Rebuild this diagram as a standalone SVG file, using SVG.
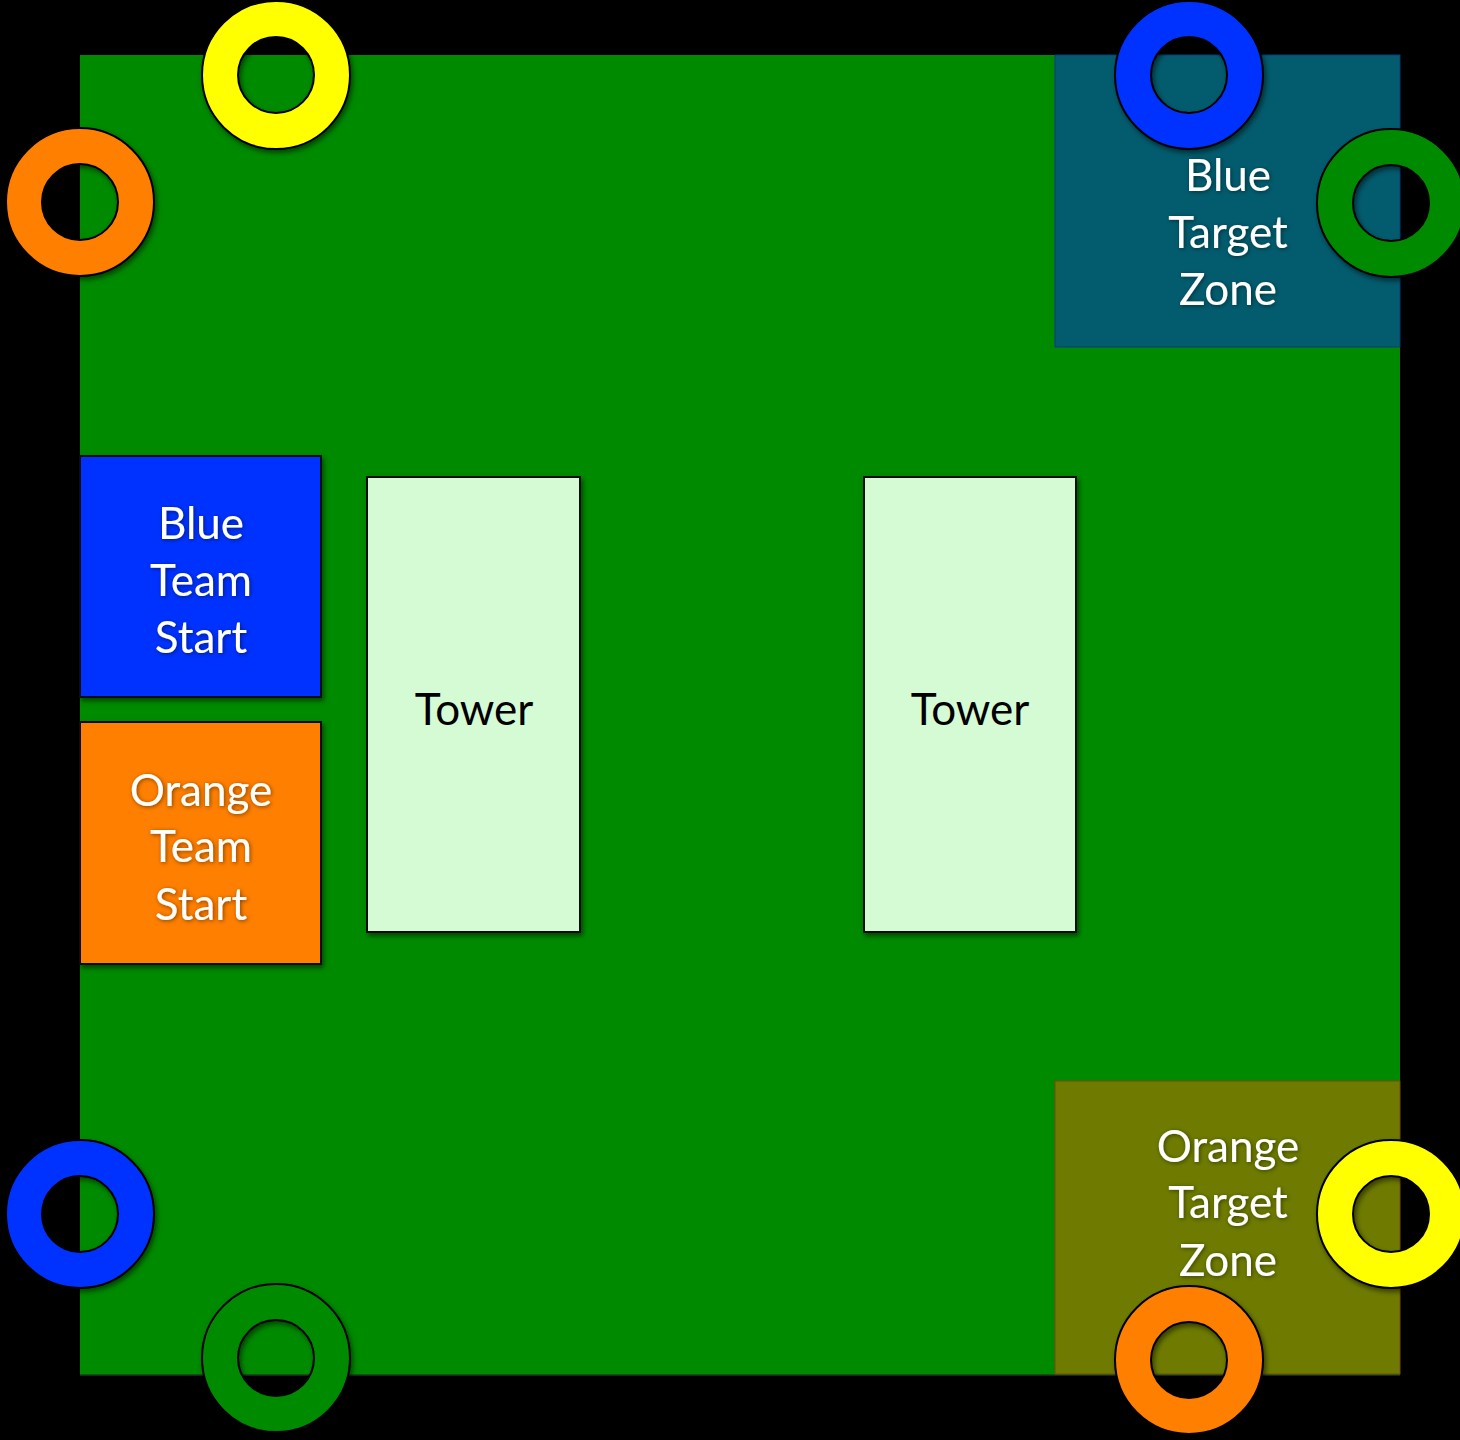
<svg xmlns="http://www.w3.org/2000/svg" width="1460" height="1440" viewBox="0 0 1460 1440">
<style>
.lbl{font-family:Lato,"Open Sans","Liberation Sans",sans-serif;font-size:44px;text-anchor:middle;fill:#ffffff}
.dark{fill:#000000}
.ring{stroke:#000;stroke-width:2;fill-rule:evenodd}
.box{stroke:#111;stroke-width:2}
</style>
<defs>
<filter id="sh" x="-20%" y="-20%" width="150%" height="150%">
<feDropShadow dx="2" dy="3" stdDeviation="2.5" flood-color="#000" flood-opacity="0.5"/>
</filter>
<filter id="tsh" x="-20%" y="-20%" width="150%" height="150%">
<feDropShadow dx="1" dy="1" stdDeviation="2" flood-color="#000" flood-opacity="0.5"/>
</filter>
</defs>
<rect x="0" y="0" width="1460" height="1440" fill="#000"/>
<g id="field">
<rect x="80" y="55" width="1320" height="1320" fill="#008A00"/>
<line x1="80" y1="1375" x2="1400" y2="1375" stroke="#1e3a1e" stroke-width="1.5"/>
</g>
<g id="blue-target-zone">
<rect x="1055" y="55" width="345" height="292" fill="#025C6E" stroke="#0a3a7a" stroke-width="1"/>
<text class="lbl" filter="url(#tsh)"><tspan x="1228" y="191">Blue</tspan><tspan x="1228" y="248">Target</tspan><tspan x="1228" y="305">Zone</tspan></text>
</g>
<g id="orange-target-zone">
<rect x="1055" y="1081" width="345" height="293" fill="#6E7B00" stroke="#7a4a10" stroke-width="1"/>
<text class="lbl" filter="url(#tsh)"><tspan x="1228" y="1162">Orange</tspan><tspan x="1228" y="1218">Target</tspan><tspan x="1228" y="1276">Zone</tspan></text>
</g>
<g id="blue-team-start">
<rect class="box" x="80" y="456" width="241" height="241" fill="#0433FF" filter="url(#sh)"/>
<text class="lbl" filter="url(#tsh)"><tspan x="201" y="539">Blue</tspan><tspan x="201" y="596">Team</tspan><tspan x="201" y="653">Start</tspan></text>
</g>
<g id="orange-team-start">
<rect class="box" x="80" y="722" width="241" height="242" fill="#FF7F00" filter="url(#sh)"/>
<text class="lbl" filter="url(#tsh)"><tspan x="201" y="806">Orange</tspan><tspan x="201" y="862">Team</tspan><tspan x="201" y="920">Start</tspan></text>
</g>
<g id="tower-left">
<rect class="box" x="367" y="477" width="213" height="455" fill="#D5FBD5" filter="url(#sh)"/>
<text class="lbl dark" x="474" y="725">Tower</text>
</g>
<g id="tower-right">
<rect class="box" x="864" y="477" width="212" height="455" fill="#D5FBD5" filter="url(#sh)"/>
<text class="lbl dark" x="970" y="725">Tower</text>
</g>
<g id="rings" filter="url(#sh)">
<path id="ring-yellow-top" class="ring" fill="#FFFF00" d="M202,75a74,74 0 1,0 148,0a74,74 0 1,0 -148,0ZM238,75a38,38 0 1,0 76,0a38,38 0 1,0 -76,0Z"/>
<path id="ring-orange-left" class="ring" fill="#FF7F00" d="M6,202a74,74 0 1,0 148,0a74,74 0 1,0 -148,0ZM42,202a38,38 0 1,0 76,0a38,38 0 1,0 -76,0Z"/>
<path id="ring-blue-top" class="ring" fill="#0433FF" d="M1115,75a74,74 0 1,0 148,0a74,74 0 1,0 -148,0ZM1151,75a38,38 0 1,0 76,0a38,38 0 1,0 -76,0Z"/>
<path id="ring-green-right" class="ring" fill="#008A00" d="M1317,203a74,74 0 1,0 148,0a74,74 0 1,0 -148,0ZM1353,203a38,38 0 1,0 76,0a38,38 0 1,0 -76,0Z"/>
<path id="ring-yellow-right" class="ring" fill="#FFFF00" d="M1317,1214a74,74 0 1,0 148,0a74,74 0 1,0 -148,0ZM1353,1214a38,38 0 1,0 76,0a38,38 0 1,0 -76,0Z"/>
<path id="ring-orange-bottom" class="ring" fill="#FF7F00" d="M1115,1360a74,74 0 1,0 148,0a74,74 0 1,0 -148,0ZM1151,1360a38,38 0 1,0 76,0a38,38 0 1,0 -76,0Z"/>
<path id="ring-blue-left" class="ring" fill="#0433FF" d="M6,1214a74,74 0 1,0 148,0a74,74 0 1,0 -148,0ZM42,1214a38,38 0 1,0 76,0a38,38 0 1,0 -76,0Z"/>
<path id="ring-green-bottom" class="ring" fill="#008A00" d="M202,1358a74,74 0 1,0 148,0a74,74 0 1,0 -148,0ZM238,1358a38,38 0 1,0 76,0a38,38 0 1,0 -76,0Z"/>
</g>
</svg>
